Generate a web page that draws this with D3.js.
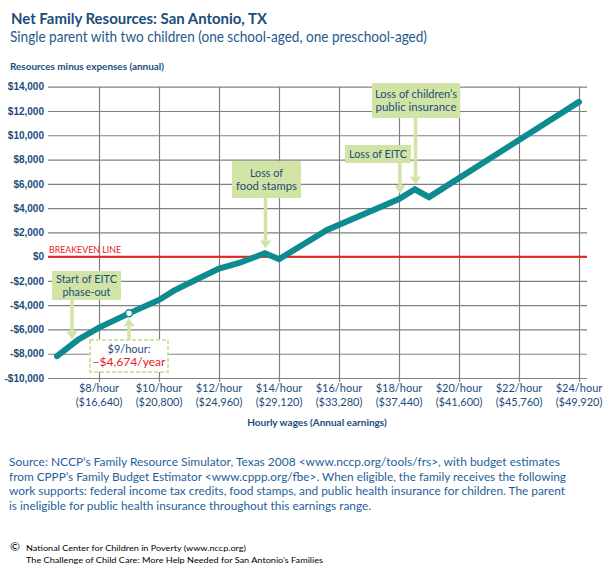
<!DOCTYPE html>
<html>
<head>
<meta charset="utf-8">
<script src="https://cdn.jsdelivr.net/npm/d3@7"></script>
<style>
  body { margin: 0; background: #fff; }
  svg { font-family: Lato, "Open Sans", sans-serif; }
</style>
</head>
<body>
<div id="chart"></div>
<script>
// hourly wage -> net family resources (annual, $)
const wages = [6.6, 7.3, 8, 9, 10, 10.5, 11.4, 12, 12.7, 13.53, 14, 15.6, 18, 18.53, 19, 24]
const netResources = [-8200, -6850, -5850, -4674, -3570, -2800, -1700, -980, -500, 280, -210, 2200, 4750, 5550, 4900, 12750]

const yTicks = [-10000, -8000, -6000, -4000, -2000, 0, 2000, 4000, 6000, 8000, 10000, 12000, 14000]
const xTickWages = [8, 10, 12, 14, 16, 18, 20, 22, 24]
const xTickAnnual = ['$16,640', '$20,800', '$24,960', '$29,120', '$33,280', '$37,440', '$41,600', '$45,760', '$49,920']

const markerWage = 9
const markerLabel = ['$9/hour:', '\u2013$4,674/year']

const notes = [
  { lines: ['Start of EITC', 'phase-out'], wage: 7.1 },
  { lines: ['Loss of', 'food stamps'], wage: 13.55 },
  { lines: ['Loss of EITC'], wage: 18.03 },
  { lines: ['Loss of children\u2019s', 'public insurance'], wage: 18.55 }
]
// box layout for each note: [left, top, right, bottom], and text widths per line
const noteBoxes = [[52, 271, 121, 300], [232, 161, 301, 198], [345, 145, 411, 163], [372, 83, 460, 118]]
const noteTextWidths = [[61, 48], [33, 61], [58], [82, 81]]

const svgWidth = 610
const svgHeight = 575
const blue = '#1b4d7c'
const green = '#d2e3a6'
const teal = '#0e8b90'

let svg = d3.select('#chart')
  .append('svg')
  .attr('width', svgWidth)
  .attr('height', svgHeight)

// Titles
svg.append('text').attr('x', 11).attr('y', 24)
  .attr('font-size', 16).attr('font-weight', 'bold').attr('fill', blue)
  .attr('textLength', 256).attr('lengthAdjust', 'spacingAndGlyphs')
  .text('Net Family Resources: San Antonio, TX')
svg.append('text').attr('x', 10).attr('y', 42)
  .attr('font-size', 15).attr('fill', '#1f5a8e')
  .attr('textLength', 417).attr('lengthAdjust', 'spacingAndGlyphs')
  .text('Single parent with two children (one school-aged, one preschool-aged)')
svg.append('text').attr('x', 10).attr('y', 70)
  .attr('font-size', 9).attr('font-weight', 'bold').attr('fill', blue)
  .attr('textLength', 154).attr('lengthAdjust', 'spacingAndGlyphs')
  .text('Resources minus expenses (annual)')

let xScale = d3.scaleLinear().domain([8, 24]).range([99, 579])
let yScale = d3.scaleLinear().domain([-10000, 14000]).range([378, 86.7])

const gridLeft = 48
const gridRight = 587
const gridBottom = 382

// Y axis with gridlines
let yAxis = svg.append('g')
  .attr('class', 'axis axis--y')
  .attr('transform', 'translate(' + gridRight + ',0)')
  .call(d3.axisLeft(yScale)
    .tickValues(yTicks)
    .tickSize(gridRight - gridLeft)
    .tickPadding(4)
    .tickFormat(d => (d < 0 ? '-' : '') + '$' + d3.format(',')(Math.abs(d))))
yAxis.select('.domain').remove()
yAxis.selectAll('line').attr('stroke', '#808080').attr('stroke-width', 1.2)
yAxis.selectAll('text')
  .attr('fill', blue).attr('font-size', 10).attr('font-weight', 'bold')

// X axis with gridlines
let xAxis = svg.append('g')
  .attr('class', 'axis axis--x')
  .attr('transform', 'translate(0,' + yScale(14000) + ')')
  .call(d3.axisBottom(xScale)
    .tickValues(xTickWages)
    .tickSize(gridBottom - yScale(14000))
    .tickFormat(''))
xAxis.select('.domain').remove()
xAxis.selectAll('line').attr('stroke', '#808080').attr('stroke-width', 1.2)

let xLabels = svg.append('g').attr('class', 'x-labels')
  .selectAll('text').data(xTickWages).enter()
  .append('text')
  .attr('text-anchor', 'middle')
  .attr('fill', blue)
  .attr('font-size', 11)
xLabels.append('tspan')
  .attr('x', d => xScale(d)).attr('y', 392)
  .text(d => '$' + d + '/hour')
xLabels.append('tspan')
  .attr('x', d => xScale(d)).attr('y', 405.5)
  .text((d, i) => '(' + xTickAnnual[i] + ')')

svg.append('text').attr('x', 317).attr('y', 426)
  .attr('text-anchor', 'middle')
  .attr('font-size', 10).attr('font-weight', 'bold').attr('fill', blue)
  .text('Hourly wages (Annual earnings)')

// Breakeven line
svg.append('line')
  .attr('x1', gridLeft).attr('x2', gridRight)
  .attr('y1', yScale(0)).attr('y2', yScale(0))
  .attr('stroke', '#e8211c').attr('stroke-width', 2)
svg.append('text').attr('x', 49).attr('y', yScale(0) - 4)
  .attr('font-size', 9).attr('fill', '#e8211c')
  .attr('textLength', 72).attr('lengthAdjust', 'spacingAndGlyphs')
  .text('BREAKEVEN LINE')

// Net resources line
let data = wages.map((w, i) => ({ x: w, y: netResources[i] }))
let line = d3.line().x(d => xScale(d.x)).y(d => yScale(d.y))
svg.append('path')
  .datum(data)
  .attr('d', line)
  .attr('fill', 'none')
  .attr('stroke', teal)
  .attr('stroke-width', 6)
  .attr('stroke-linejoin', 'miter')
  .attr('stroke-linecap', 'round')

// value of the line at a given wage
function valueAt(w) {
  let i = d3.bisectRight(wages, w)
  i = Math.max(1, Math.min(wages.length - 1, i))
  let t = (w - wages[i - 1]) / (wages[i] - wages[i - 1])
  return netResources[i - 1] + t * (netResources[i] - netResources[i - 1])
}

function arrow(g, x, yFrom, yTip, dir) {
  // dir = 1 pointing down, -1 pointing up
  let headLen = 8
  g.append('line')
    .attr('x1', x).attr('x2', x)
    .attr('y1', yFrom).attr('y2', yTip - dir * headLen)
    .attr('stroke', green).attr('stroke-width', 3.5)
  g.append('path')
    .attr('d', 'M' + (x - 5.5) + ',' + (yTip - dir * headLen) + 'L' + (x + 5.5) + ',' + (yTip - dir * headLen) + 'L' + x + ',' + yTip + 'Z')
    .attr('fill', green)
}

// Notes
let noteG = svg.append('g').attr('class', 'notes')
notes.forEach((n, i) => {
  let b = noteBoxes[i]
  noteG.append('rect')
    .attr('x', b[0]).attr('y', b[1])
    .attr('width', b[2] - b[0]).attr('height', b[3] - b[1])
    .attr('fill', green)
  let cx = (b[0] + b[2]) / 2
  let lh = 13.4
  let top = (b[1] + b[3]) / 2 - (n.lines.length - 1) * lh / 2 + 4
  let txt = noteG.append('text')
    .attr('text-anchor', 'middle')
    .attr('font-size', 11).attr('fill', blue)
  n.lines.forEach((t, j) => {
    txt.append('tspan')
      .attr('x', cx).attr('y', top + j * lh)
      .attr('textLength', noteTextWidths[i][j]).attr('lengthAdjust', 'spacingAndGlyphs')
      .text(t)
  })
  arrow(noteG, xScale(n.wage), b[3], yScale(valueAt(n.wage)) - 5, 1)
})

// $9/hour marker
let mx = xScale(markerWage)
let my = yScale(valueAt(markerWage))
let mb = [90, 340, 168, 372]
arrow(svg, mx, mb[1], my + 5, -1)
svg.append('rect')
  .attr('x', mb[0]).attr('y', mb[1])
  .attr('width', mb[2] - mb[0]).attr('height', mb[3] - mb[1])
  .attr('fill', '#fff')
  .attr('stroke', green).attr('stroke-width', 2)
  .attr('stroke-dasharray', '4,2')
let mText = svg.append('text')
  .attr('text-anchor', 'middle').attr('font-size', 11)
mText.append('tspan').attr('x', (mb[0] + mb[2]) / 2).attr('y', 352.6)
  .attr('fill', blue)
  .attr('textLength', 43).attr('lengthAdjust', 'spacingAndGlyphs')
  .text(markerLabel[0])
mText.append('tspan').attr('x', (mb[0] + mb[2]) / 2).attr('y', 366)
  .attr('fill', '#e8211c')
  .attr('textLength', 73).attr('lengthAdjust', 'spacingAndGlyphs')
  .text(markerLabel[1])
svg.append('circle')
  .attr('cx', mx).attr('cy', my).attr('r', 3.5)
  .attr('fill', '#fff').attr('stroke', teal).attr('stroke-width', 1.5)

// Source note
const sourceLines = [
  'Source: NCCP\u2019s Family Resource Simulator, Texas 2008 <www.nccp.org/tools/frs>, with budget estimates',
  'from CPPP\u2019s Family Budget Estimator <www.cppp.org/fbe>. When eligible, the family receives the following',
  'work supports: federal income tax credits, food stamps, and public health insurance for children. The parent',
  'is ineligible for public health insurance throughout this earnings range.'
]
const sourceWidths = [551, 557, 556, 362]
sourceLines.forEach((t, i) => {
  svg.append('text').attr('x', 9).attr('y', 466 + i * 14.6)
    .attr('font-size', 12).attr('fill', '#1f5f99')
    .attr('textLength', sourceWidths[i]).attr('lengthAdjust', 'spacingAndGlyphs')
    .text(t)
})

svg.append('text').attr('x', 10).attr('y', 551)
  .attr('font-size', 12).attr('fill', '#000').text('\u00a9')
svg.append('text').attr('x', 26).attr('y', 551)
  .attr('font-size', 8).attr('fill', '#000')
  .attr('textLength', 220).attr('lengthAdjust', 'spacingAndGlyphs')
  .text('National Center for Children in Poverty (www.nccp.org)')
svg.append('text').attr('x', 26).attr('y', 563)
  .attr('font-size', 8).attr('fill', '#000')
  .attr('textLength', 297).attr('lengthAdjust', 'spacingAndGlyphs')
  .text('The Challenge of Child Care: More Help Needed for San Antonio\u2019s Families')
</script>
</body>
</html>
